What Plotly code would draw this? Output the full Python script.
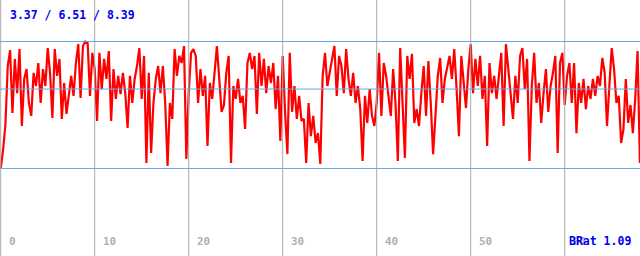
import numpy as np
import plotly.graph_objects as go

seg_a = [3.37, 4.10, 5.09, 7.42, 8.05, 5.57, 7.70, 6.35, 8.09, 5.05,
         6.91, 7.30, 5.96, 5.45, 7.15, 6.63, 7.54, 5.96, 7.30, 6.63,
         8.13, 7.15, 5.37, 8.09, 7.03, 7.70, 5.33, 6.75, 5.53, 6.35,
         7.03, 6.24, 7.54, 8.29, 6.16, 8.21, 8.39, 8.33, 6.24, 7.94,
         7.30, 5.25, 7.94, 6.51, 7.70, 6.91, 8.01, 5.25, 7.30, 6.12,
         7.03, 6.31, 7.15, 6.35, 4.97]
seg_b = [7.03, 5.96, 6.91, 7.42, 8.13, 6.12, 7.82, 3.59, 7.15, 3.98,
         5.96, 6.91, 7.42, 6.35, 7.42, 5.96, 3.47, 5.96, 5.33, 8.09,
         7.03, 7.82, 7.54, 8.21, 3.75, 6.35, 7.94, 8.09, 7.82, 5.96,
         7.30, 6.24, 7.03, 4.26, 6.75, 6.12, 7.15, 8.21, 6.91, 5.61,
         5.88, 7.15, 7.82, 3.59, 6.63, 6.12, 6.91, 5.96, 6.24, 4.93,
         7.54, 7.94, 7.30, 7.82]
seg_c = [5.53, 7.94, 6.63, 7.70, 6.35, 7.42, 6.75, 7.54, 5.72, 7.03,
         4.46, 7.82, 5.61, 3.94, 7.94, 5.61, 6.63, 5.33, 6.24, 5.25,
         5.33, 3.59, 5.96, 4.65, 5.45, 4.38, 4.77, 3.55, 7.03, 7.94,
         6.63, 7.15, 7.70, 8.21, 6.24, 7.82, 7.42, 6.35, 8.09, 6.91,
         6.24, 7.15, 5.96, 6.63, 5.72, 3.67, 6.24, 5.17, 6.51, 5.45,
         5.05, 5.96, 7.94, 5.45, 7.54]
seg_d = [7.03, 6.24, 5.45, 7.30, 5.96, 3.67, 8.13, 5.96, 3.79, 7.82,
         6.91, 7.90, 5.17, 5.72, 5.05, 6.35, 7.42, 5.45, 7.62, 5.96,
         3.94, 5.45, 7.03, 7.74, 5.96, 6.91, 7.42, 7.82, 6.91, 8.09,
         6.51, 4.65, 7.82, 6.91, 5.76, 7.30, 8.29, 6.35, 7.70, 6.63,
         7.82, 6.12, 7.03, 4.26, 7.54, 6.35, 7.03, 6.12, 7.15, 7.94,
         5.05, 8.29, 7.30, 6.24]
seg_e = [5.33, 7.03, 5.96, 7.82, 8.13, 6.51, 7.70, 3.67, 6.63, 7.94,
         5.96, 6.75, 5.17, 6.35, 7.30, 5.61, 6.63, 7.15, 7.82, 3.98,
         7.54, 7.94, 5.88, 7.03, 7.54, 5.96, 7.54, 4.77, 6.75, 5.96,
         6.91, 5.72, 6.63, 6.12, 6.91, 6.24, 7.03, 6.63, 7.74, 7.15,
         5.05, 6.63, 8.13, 7.30, 5.96, 6.24, 4.38, 4.93, 6.91, 5.17,
         5.88, 4.77, 6.12, 8.01, 3.59]

sample_step = 0.25
stat_min, stat_mean, stat_max = 3.37, 6.51, 8.39
brat = 1.09
x_ticks = [0, 10, 20, 30, 40, 50, 60]

values = seg_a + seg_b + seg_c + seg_d + seg_e
xs = np.arange(len(values)) * sample_step

fig = go.Figure()
fig.add_trace(go.Scatter(x=xs, y=values, mode="lines",
                         line=dict(color="#ff0000", width=2.2),
                         hoverinfo="skip"))

shapes = []
for t in x_ticks:
    shapes.append(dict(type="line", xref="x", yref="paper", x0=t, x1=t, y0=0, y1=1,
                       line=dict(color="#aaaaaa", width=1), layer="above"))
for v in (stat_min, stat_mean, stat_max):
    shapes.append(dict(type="line", xref="paper", yref="y", x0=0, x1=1, y0=v, y1=v,
                       line=dict(color="#6aa6e8", width=1), layer="above"))

annotations = []
for t in x_ticks:
    annotations.append(dict(x=t + 0.7, y=1 - 241 / 256, xref="x", yref="paper",
                            text=f"<b>{t}</b>", showarrow=False, xanchor="left",
                            yanchor="middle",
                            font=dict(family="DejaVu Sans Mono", size=11, color="#b0b0b0")))
annotations.append(dict(x=8 / 640, y=1 - 15 / 256, xref="paper", yref="paper",
                        text=f"<b>{stat_min:.2f} / {stat_mean:.2f} / {stat_max:.2f}</b>",
                        showarrow=False, xanchor="left", yanchor="middle",
                        font=dict(family="DejaVu Sans Mono", size=11.5, color="#0000ee")))
annotations.append(dict(x=633 / 640, y=1 - 241 / 256, xref="paper", yref="paper",
                        text=f"<b>BRat {brat:.2f}</b>",
                        showarrow=False, xanchor="right", yanchor="middle",
                        font=dict(family="DejaVu Sans Mono", size=11.5, color="#0000ee")))

fig.update_layout(
    width=640, height=256,
    margin=dict(l=0, r=0, t=0, b=0),
    paper_bgcolor="white", plot_bgcolor="white",
    showlegend=False,
    xaxis=dict(range=[-0.0745, 68.01], showgrid=False, zeroline=False,
               showticklabels=False, fixedrange=True),
    yaxis=dict(range=[-0.088, 10.03], showgrid=False, zeroline=False,
               showticklabels=False, fixedrange=True),
    shapes=shapes,
    annotations=annotations,
)

fig.write_html("out.html")
